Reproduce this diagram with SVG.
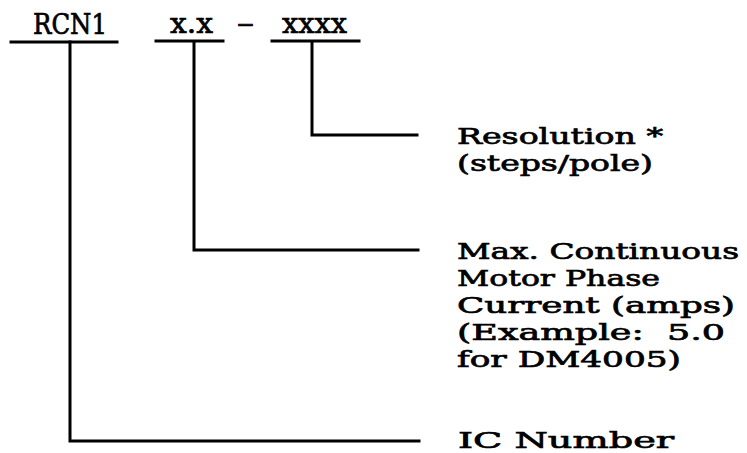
<svg xmlns="http://www.w3.org/2000/svg" width="747" height="453" viewBox="0 0 747 453">
<style>
.t{font-family:"DejaVu Serif","Liberation Serif",serif;fill:#000;stroke:#000;stroke-width:0.7}
.top{font-size:27px}
.lab{font-size:23px}
.ln{stroke:#000;stroke-width:3;fill:none;stroke-linecap:square}
</style>
<rect width="747" height="453" fill="#fff"/>
<g id="code-rcn1">
<text class="t top" x="33" y="34" textLength="74" lengthAdjust="spacingAndGlyphs">RCN1</text>
<line class="ln" x1="11" y1="42" x2="117" y2="42"/>
</g>
<g id="code-current">
<text class="t top" x="170" y="33" textLength="43" lengthAdjust="spacingAndGlyphs">x.x</text>
<line class="ln" x1="156" y1="41" x2="223" y2="41"/>
</g>
<g id="code-dash">
<text class="t top" x="237" y="33" textLength="17" lengthAdjust="spacingAndGlyphs">–</text>
</g>
<g id="code-resolution">
<text class="t top" x="282" y="33" textLength="65" lengthAdjust="spacingAndGlyphs">xxxx</text>
<line class="ln" x1="272" y1="41" x2="359" y2="41"/>
</g>
<g id="label-resolution">
<text class="t lab" x="457" y="144" textLength="206" lengthAdjust="spacingAndGlyphs">Resolution *</text>
<text class="t lab" x="457" y="171" textLength="196" lengthAdjust="spacingAndGlyphs">(steps/pole)</text>
</g>
<g id="label-current">
<text class="t lab" x="457" y="259" textLength="282" lengthAdjust="spacingAndGlyphs">Max. Continuous</text>
<text class="t lab" x="457" y="286" textLength="203" lengthAdjust="spacingAndGlyphs">Motor Phase</text>
<text class="t lab" x="457" y="313" textLength="278" lengthAdjust="spacingAndGlyphs">Current (amps)</text>
<text class="t lab" x="457" y="340" textLength="268" lengthAdjust="spacingAndGlyphs" xml:space="preserve">(Example:  5.0</text>
<text class="t lab" x="457" y="367" textLength="224" lengthAdjust="spacingAndGlyphs">for DM4005)</text>
</g>
<g id="label-ic">
<text class="t lab" x="458" y="448" textLength="216" lengthAdjust="spacingAndGlyphs">IC Number</text>
</g>
<g id="connectors">
<polyline class="ln" points="312,42 312,135 417,135"/>
<polyline class="ln" points="194,42 194,250 418,250"/>
<polyline class="ln" points="70,42 70,441 419,441"/>
</g>
</svg>
